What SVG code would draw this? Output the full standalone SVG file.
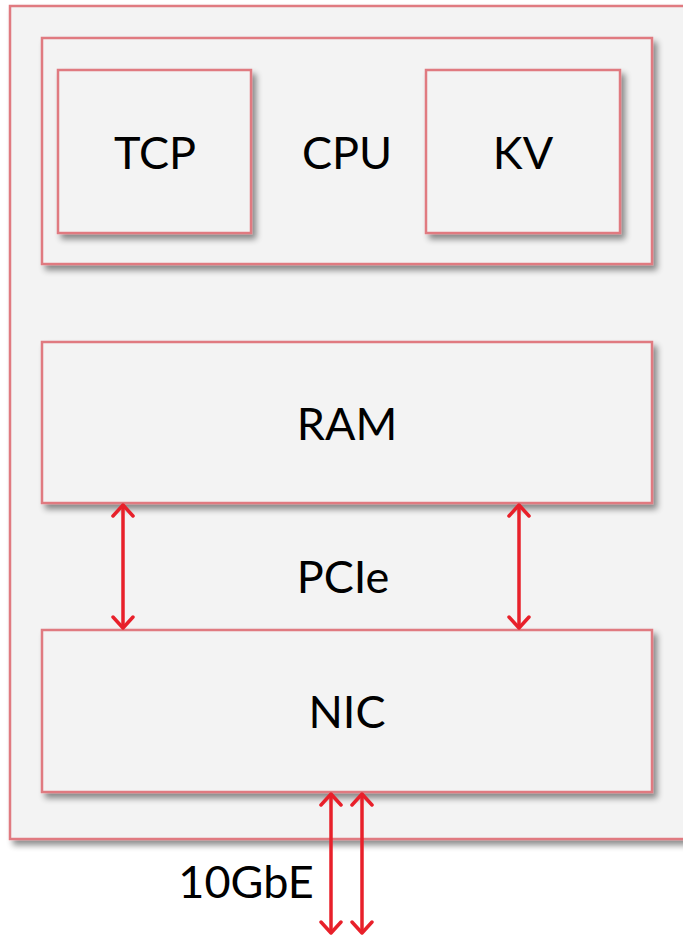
<svg xmlns="http://www.w3.org/2000/svg" width="683" height="937" viewBox="0 0 683 937">
<defs>
<filter id="sh" x="-10%" y="-10%" width="130%" height="130%">
<feGaussianBlur in="SourceAlpha" stdDeviation="3"/>
<feOffset dx="4" dy="5" result="b"/>
<feComponentTransfer><feFuncA type="linear" slope="0.45"/></feComponentTransfer>
<feMerge><feMergeNode/><feMergeNode in="SourceGraphic"/></feMerge>
</filter>
<marker id="ah" viewBox="0 0 24 24" refX="21" refY="12" markerWidth="24" markerHeight="24" markerUnits="userSpaceOnUse" orient="auto-start-reverse">
<path d="M10,2 L21,12 L10,22" fill="none" stroke="#e8202a" stroke-width="3.5" stroke-linecap="round" stroke-linejoin="round"/>
</marker>
</defs>
<style>
.box{fill:#f3f3f3;stroke:#e07a80;stroke-width:2.5;filter:url(#sh)}
.t{font-family:Lato,"Open Sans",sans-serif;font-size:45px;fill:#000;text-anchor:middle}
.c{stroke:#e8202a;stroke-width:3.5;fill:none}
</style>
<rect width="683" height="937" fill="#ffffff"/>
<g id="server"><rect class="box" x="10" y="6" width="690" height="833"/></g>
<g id="cpu"><rect class="box" x="42" y="38" width="610" height="226"/><text class="t" x="347" y="169">CPU</text></g>
<g id="tcp"><rect class="box" x="58" y="70" width="193" height="163"/><text class="t" x="155" y="169">TCP</text></g>
<g id="kv"><rect class="box" x="426" y="70" width="194" height="163"/><text class="t" x="523" y="169">KV</text></g>
<g id="ram"><rect class="box" x="42" y="342" width="610" height="161"/><text class="t" x="347" y="440">RAM</text></g>
<g id="nic"><rect class="box" x="42" y="630" width="610" height="162"/><text class="t" x="347" y="728">NIC</text></g>
<g id="connectors">
<line class="c" x1="123" y1="505" x2="123" y2="628" marker-start="url(#ah)" marker-end="url(#ah)"/>
<line class="c" x1="519" y1="505" x2="519" y2="628" marker-start="url(#ah)" marker-end="url(#ah)"/>
<line class="c" x1="331" y1="794" x2="331" y2="933" marker-start="url(#ah)" marker-end="url(#ah)"/>
<line class="c" x1="362" y1="794" x2="362" y2="933" marker-start="url(#ah)" marker-end="url(#ah)"/>
<text class="t" x="343" y="593">PCIe</text>
<text class="t" x="246" y="898">10GbE</text>
</g>
</svg>
